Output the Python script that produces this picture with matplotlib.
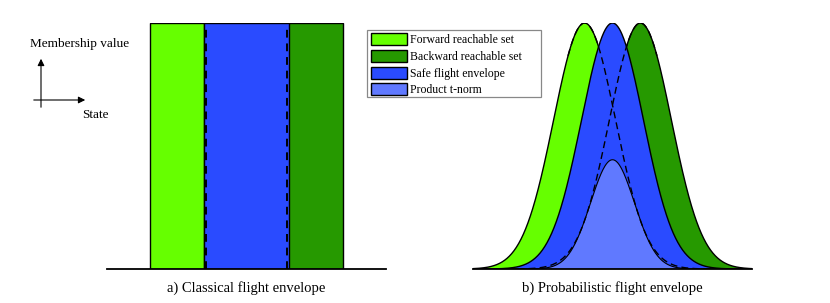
import matplotlib.pyplot as plt
import numpy as np
from matplotlib.patches import Rectangle, Patch

plt.rcParams['font.family'] = ['Liberation Serif', 'DejaVu Serif']

# --- data ---
# classical envelope: intervals on the state axis (0..10)
forward_set = (1.55, 6.52)
backward_set = (3.48, 8.45)
safe_set = (backward_set[0], forward_set[1])

# probabilistic envelope: gaussian membership functions
mu_forward = 4.0
mu_safe = 5.0
mu_backward = 6.0
sigma = 1.11

labels = ["Forward reachable set", "Backward reachable set",
          "Safe flight envelope", "Product t-norm"]
colors = ["#66ff00", "#269900", "#2a4bff", "#6079ff"]

fig = plt.figure(figsize=(8.3, 3.03), dpi=100)
W, H = 830, 303


def panel(x0, x1, y_base, y_top):
    ax = fig.add_axes([x0 / W, 1 - y_base / H, (x1 - x0) / W, (y_base - y_top) / H])
    ax.set_xlim(0, 10)
    ax.set_ylim(0, 1)
    ax.axis('off')
    ax.axhline(0, color='black', lw=1.3, clip_on=False, zorder=20)
    return ax


# --- a) classical ---
axa = panel(107, 386, 269, 23)
for (lo, hi), c in [(forward_set, colors[0]), (backward_set, colors[1]), (safe_set, colors[2])]:
    axa.add_patch(Rectangle((lo, 0), hi - lo, 1, facecolor=c, edgecolor='black', lw=1.0))
axa.plot([safe_set[0] + 0.06] * 2, [0, 1], color='black', ls=(0, (4, 3)), lw=1.4)
axa.plot([safe_set[1] - 0.06] * 2, [0, 1], color='black', ls=(0, (4, 3)), lw=1.4)
axa.text(5, -0.05, "a) Classical flight envelope", ha='center', va='top', fontsize=10.5)

# --- b) probabilistic ---
axb = panel(473, 752, 269, 23)
x = np.linspace(0, 10, 600)
f_fw = np.exp(-(x - mu_forward) ** 2 / (2 * sigma ** 2))
f_bw = np.exp(-(x - mu_backward) ** 2 / (2 * sigma ** 2))
f_safe = np.exp(-(x - mu_safe) ** 2 / (2 * sigma ** 2))
f_prod = f_fw * f_bw

for i, (f, c) in enumerate([(f_fw, colors[0]), (f_bw, colors[1]), (f_safe, colors[2]), (f_prod, colors[3])]):
    axb.fill_between(x, 0, f, facecolor=c, edgecolor='none', zorder=2 * i + 1)
    axb.plot(x, f, color='black', lw=1.0 if i < 3 else 0.8, zorder=2 * i + 2)
m1 = x > mu_forward - 0.6
m2 = x < mu_backward + 0.6
axb.plot(x[m1], f_fw[m1], color='black', ls=(0, (5, 3)), lw=1.0, zorder=15)
axb.plot(x[m2], f_bw[m2], color='black', ls=(0, (5, 3)), lw=1.0, zorder=15)
axb.text(5, -0.05, "b) Probabilistic flight envelope", ha='center', va='top', fontsize=10.5)

# --- axis sketch and legend frame ---
axs = fig.add_axes([0, 0, 1, 1], zorder=-1)
axs.set_xlim(0, W)
axs.set_ylim(H, 0)
axs.axis('off')
axs.annotate("", xy=(41, 56), xytext=(41, 110),
             arrowprops=dict(arrowstyle="-|>", color="black", lw=0.8, mutation_scale=10))
axs.annotate("", xy=(88, 100), xytext=(31, 100),
             arrowprops=dict(arrowstyle="-|>", color="black", lw=0.8, mutation_scale=10))
axs.text(30, 44, "Membership value", ha='left', va='center', fontsize=9.5)
axs.text(82, 115, "State", ha='left', va='center', fontsize=9.5)
axs.add_patch(Rectangle((367, 30), 174, 67, facecolor='white', edgecolor='#888888', lw=0.9))

handles = [Patch(facecolor=c, edgecolor='black', lw=1.0) for c in colors]
leg = fig.legend(handles, labels, loc='upper left', bbox_to_anchor=(369 / W, 1 - 31 / H),
                 fontsize=8.5, frameon=False,
                 handlelength=3.0, handleheight=1.2, handletextpad=0.3, labelspacing=0.3,
                 borderpad=0.2, borderaxespad=0)

fig.savefig("out.png", dpi=100)
